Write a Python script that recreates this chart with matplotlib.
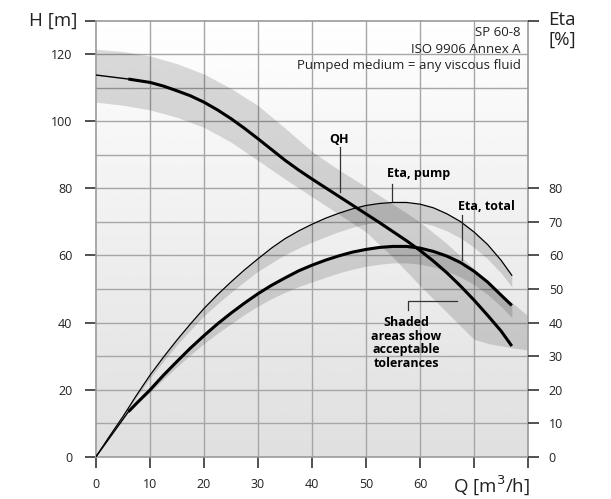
import numpy as np
import matplotlib
matplotlib.use("Agg")
import matplotlib.pyplot as plt

plt.rcParams['font.family'] = ['Open Sans', 'DejaVu Sans']

# QH curve (m)
qh_q = [0, 3, 6, 8, 10, 12.5, 15, 17.5, 20, 22.5, 25, 27.5, 30, 32.5, 35, 37.5, 40, 42.5, 45, 47.5,
        50, 52.5, 55, 57.5, 60, 62.5, 65, 67.5, 70, 72.5, 75, 77]
qh_h = [113.8, 113.2, 112.6, 112.1, 111.6, 110.5, 109.1, 107.6, 105.7, 103.4, 100.8, 97.9, 94.8, 91.6,
        88.4, 85.5, 82.8, 80.2, 77.6, 75.0, 72.4, 69.8, 67.1, 64.4, 61.5, 58.3, 54.8, 50.9, 46.7, 42.2,
        37.5, 33.0]

# QH tolerance band
band_q = [0, 5, 10, 15, 20, 25, 30, 35, 40, 45, 50, 55, 60, 65, 70, 73, 77, 80]
band_hi = [121.5, 120.8, 119.5, 117.2, 114.1, 109.8, 104.7, 98.0, 91.0, 85.5, 80.5, 75.3, 70.0, 63.5,
           56.0, 51.5, 46.0, 42.0]
band_lo = [105.7, 104.8, 103.4, 101.2, 98.2, 93.8, 88.3, 82.8, 77.5, 72.3, 67.0, 59.5, 51.0, 43.0,
           35.0, 33.6, 32.5, 31.8]

# Eta pump (%)
ep_q = [0, 2.5, 5, 7.5, 10, 12.5, 15, 17.5, 20, 22.5, 25, 27.5, 30, 32.5, 35, 37.5, 40, 42.5, 45, 47.5,
        50, 52.5, 55, 57.5, 60, 62.5, 65, 67.5, 70, 72.5, 75, 77]
ep_e = [0, 6.1, 12.0, 18.3, 24.3, 29.7, 34.8, 39.6, 44.2, 48.3, 52.1, 55.7, 59.0, 62.2, 65.0, 67.3,
        69.3, 71.1, 72.6, 73.9, 74.9, 75.5, 75.8, 75.8, 75.3, 74.2, 72.4, 70.1, 67.0, 63.3, 58.6, 54.1]
ep_lo = [0, 6.1, 11.8, 17.8, 23.4, 28.5, 33.4, 37.8, 42.0, 45.6, 49.0, 52.2, 55.3, 57.8, 60.2, 62.2,
         64.0, 65.6, 67.1, 68.4, 69.4, 70.0, 70.3, 70.3, 69.9, 68.9, 67.3, 65.2, 62.4, 59.0, 54.8, 50.6]

# Eta total (%)
et_q = [6, 7.5, 10, 12.5, 15, 17.5, 20, 22.5, 25, 27.5, 30, 32.5, 35, 37.5, 40, 42.5, 45, 47.5,
        50, 52.5, 55, 57.5, 60, 62.5, 65, 67.5, 70, 72.5, 75, 77]
et_e = [13.4, 15.9, 19.9, 24.3, 28.4, 32.4, 36.1, 39.6, 42.8, 45.8, 48.6, 51.1, 53.3, 55.4, 57.1, 58.6,
        59.9, 61.0, 61.8, 62.4, 62.7, 62.7, 62.2, 61.2, 59.8, 57.9, 55.3, 52.1, 48.2, 45.1]
et_lo = [13.4, 15.6, 19.2, 23.1, 26.8, 30.4, 33.7, 36.8, 39.6, 42.4, 44.9, 47.1, 49.0, 50.7, 52.1, 53.5,
         54.8, 55.9, 56.8, 57.4, 57.8, 57.8, 57.4, 56.6, 55.3, 53.6, 51.3, 48.4, 44.8, 41.5]

x_ticks = [0, 10, 20, 30, 40, 50, 60, 70, 80]
x_labels = ['0', '10', '20', '30', '40', '50', '60', '', '']
h_ticks = [0, 20, 40, 60, 80, 100, 120]
eta_ticks = [0, 10, 20, 30, 40, 50, 60, 70, 80]

fig = plt.figure(figsize=(6.11, 4.99), dpi=100)
ax = fig.add_axes([96 / 611, (499 - 456.7) / 499, 432 / 611, 436 / 499])

# background gradient
grad = np.linspace(0.875, 0.998, 256).reshape(-1, 1)
ax.imshow(grad, extent=[0, 80, 0, 130], origin='lower', aspect='auto',
          cmap='gray', vmin=0, vmax=1, zorder=0)
ax.set_xlim(0, 80)
ax.set_ylim(0, 130)

for x in range(10, 80, 10):
    ax.axvline(x, color='#a6a6a6', lw=1.0, zorder=1)
for y in range(10, 130, 10):
    ax.axhline(y, color='#a6a6a6', lw=1.0, zorder=1)

# tolerance bands
ax.fill_between(band_q, band_lo, band_hi, color='k', alpha=0.14, lw=0, zorder=2)
ax.fill_between(ep_q, ep_lo, ep_e, color='k', alpha=0.14, lw=0, zorder=2)
ax.fill_between(et_q, et_lo, et_e, color='k', alpha=0.14, lw=0, zorder=2)

# curves
ax.plot(qh_q[:3], qh_h[:3], color='k', lw=1.0, zorder=4)
ax.plot(qh_q[2:], qh_h[2:], color='k', lw=2.2, zorder=4, solid_capstyle='butt')
ax.plot(ep_q, ep_e, color='k', lw=0.9, zorder=4)
ax.plot([0] + et_q[:1], [0] + et_e[:1], color='k', lw=1.0, zorder=4)
ax.plot(et_q, et_e, color='k', lw=2.2, zorder=4, solid_capstyle='butt')

for s in ax.spines.values():
    s.set_color('#9a9a9a')
    s.set_linewidth(1.2)

ax.set_xticks(x_ticks)
ax.set_xticklabels(x_labels)
ax.set_yticks(h_ticks + [130])
ax.set_yticklabels([str(v) for v in h_ticks] + [''])
ax.tick_params(axis='x', direction='out', length=8, width=1.2, color='#333333',
               pad=7, labelsize=9, labelcolor='#222222')
ax.tick_params(axis='y', direction='out', length=8, width=1.2, color='#333333',
               pad=9, labelsize=9, labelcolor='#222222')

ax2 = ax.twinx()
ax2.set_ylim(0, 130)
ax2.set_yticks(eta_ticks + [130])
ax2.set_yticklabels([str(v) for v in eta_ticks] + [''])
ax2.tick_params(axis='y', direction='out', length=8, width=1.2, color='#333333',
                pad=7, labelsize=9, labelcolor='#222222')
for s in ax2.spines.values():
    s.set_visible(False)

# axis titles
fig.text(77 / 611, 1 - 20.7 / 499, 'H [m]', ha='right', va='center', fontsize=13.5, color='#222222')
fig.text(548 / 611, 1 - 20 / 499, 'Eta', ha='left', va='center', fontsize=13.5, color='#222222')
fig.text(548 / 611, 1 - 40 / 499, '[%]', ha='left', va='center', fontsize=13.5, color='#222222')
fig.text(453 / 611, 1 - 485 / 499, 'Q [m$^3$/h]', ha='left', va='center', fontsize=13.5, color='#222222')
fig.text(21 / 611, 0.002, 'Fig. 23', ha='left', va='top', fontsize=13.5, color='#222222')

# info text
ax.text(78.6, 126.5, 'SP 60-8', ha='right', va='center', fontsize=9.5, color='#222222', zorder=5)
ax.text(78.6, 121.5, 'ISO 9906 Annex A', ha='right', va='center', fontsize=9.5, color='#222222', zorder=5)
ax.text(78.6, 116.5, 'Pumped medium = any viscous fluid', ha='right', va='center', fontsize=9.5,
        color='#222222', zorder=5)

# curve labels with leaders
lead = dict(color='#333333', lw=0.9, zorder=5)
ax.text(45.0, 94.7, 'QH', ha='center', va='center', fontsize=9, fontweight='bold', zorder=5)
ax.plot([45.2, 45.2], [92.3, 79.0], **lead)
ax.text(59.8, 84.3, 'Eta, pump', ha='center', va='center', fontsize=9, fontweight='bold', zorder=5)
ax.plot([54.8, 54.8], [81.4, 76.2], **lead)
ax.text(72.3, 74.6, 'Eta, total', ha='center', va='center', fontsize=9, fontweight='bold', zorder=5)
ax.plot([67.8, 67.8], [72.2, 58.7], **lead)
ax.text(57.5, 33.9, 'Shaded\nareas show\nacceptable\ntolerances', ha='center', va='center',
        fontsize=9, fontweight='bold', linespacing=1.05, zorder=5)
ax.plot([57.7, 57.7, 66.8], [43.7, 46.4, 46.4], **lead)

fig.savefig('out.png', dpi=100)
